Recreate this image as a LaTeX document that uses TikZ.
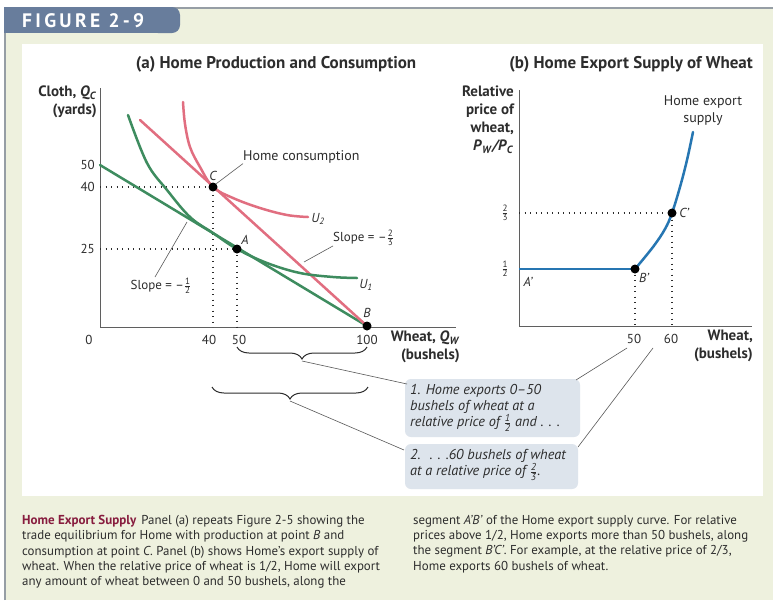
\documentclass[tikz,border=0pt]{standalone}
\usepackage{fontspec}
\usepackage{amsmath}
\setmainfont{PT Sans}
\usetikzlibrary{decorations.pathreplacing}
\definecolor{bgG}{RGB}{238,241,222}
\definecolor{bannerC}{RGB}{104,125,156}
\definecolor{frameG}{RGB}{150,158,165}
\definecolor{grn}{RGB}{62,140,95}
\definecolor{pnk}{RGB}{225,110,128}
\definecolor{blu}{RGB}{38,118,178}
\definecolor{axisC}{RGB}{95,95,95}
\definecolor{boxC}{RGB}{221,228,236}
\definecolor{capred}{RGB}{135,28,62}
\definecolor{txt}{RGB}{45,45,45}
\newcommand\hfr{$\frac{\text{1}}{\text{2}}$}
\newcommand\tfr{$\frac{\text{2}}{\text{3}}$}
\newcommand\isub[2]{\textit{#1}\textsubscript{\textit{#2}}}
\begin{document}
\begin{tikzpicture}[x=1pt,y=-1pt,
  lbl/.style={font=\fontsize{13}{13}\selectfont, text=txt, inner sep=0pt},
  ttl/.style={font=\bfseries\fontsize{17}{17}\selectfont, text=txt, inner sep=0pt},
  axl/.style={font=\bfseries\fontsize{15}{18}\selectfont, text=txt, inner sep=0pt, align=right},
  ptl/.style={font=\itshape\fontsize{13}{13}\selectfont, text=txt, inner sep=0pt},
  ax/.style={draw=axisC, line width=1pt},
  dotl/.style={draw=txt, line width=1.3pt, dash pattern=on 1.3pt off 4.2pt},
  lead/.style={draw=gray!70!black, line width=0.6pt},
  pt/.style={circle, fill=black, inner sep=0pt, minimum size=9pt},
  crv/.style={line width=2.5pt, line cap=round},
  boxt/.style={font=\itshape\fontsize{14.3}{16.3}\selectfont, text=txt, inner sep=0pt, anchor=north west, align=left},
  brc/.style={draw=txt, line width=1pt, decorate, decoration={brace, mirror, amplitude=12pt}},
  captxt/.style={font=\fontsize{12.9}{15.3}\selectfont, text=txt, inner sep=0pt, anchor=north west, align=left}
]
\useasboundingbox (0,0) rectangle (773,600);
% background
\fill[white] (0,0) rectangle (773,600);
\fill[bgG] (5,8) rectangle (773,600);
\fill[white] (22,44) rectangle (763,496);
\draw[frameG, line width=2pt] (5,600) -- (5,8) -- (773,8);
% banner
\fill[bannerC] (4,7) rectangle (170,33);
\fill[bannerC, rounded corners=8pt] (150,7) rectangle (180,33);
\node[font=\bfseries\fontsize{19.5}{19.5}\selectfont\addfontfeatures{LetterSpace=17}, text=white, inner sep=0pt, anchor=west] (fig) at (22,21) {FIGURE 2-9};

% ---------- panel (a)
\node[ttl] (ta) at (276,64) {(a) Home Production and Consumption};
\coordinate (oa) at (100,327);
\coordinate (yta) at (100,88);
\coordinate (xta) at (456,327);
\draw[ax] (yta) -- (oa) -- (xta);
\node[axl, anchor=north east] (ylab) at (97,86) {Cloth, \isub{Q}{C}\\(yards)};
\node[axl, anchor=north east] (xlab) at (460,331) {Wheat, \isub{Q}{W}\\(bushels)};
\node[lbl, anchor=east] (t50) at (95,165) {50};
\node[lbl, anchor=east] (t40) at (95,187) {40};
\node[lbl, anchor=east] (t25) at (95,249) {25};
\node[lbl] (t0) at (89,340) {0};
\node[lbl] (x40) at (209,340) {40};
\node[lbl] (x50) at (239,340) {50};
\node[lbl] (x100) at (367,340) {100};

% points
\coordinate (yC) at (100,187);
\coordinate (xC) at (213,327);
\coordinate (yA) at (100,249);
\coordinate (xA) at (237,327);
\coordinate (y50) at (100,165);
\coordinate (Btop) at (140,120);
\draw[dotl] (yC) -- (213,187) -- (xC);
\draw[dotl] (yA) -- (237,249) -- (xA);
% PPF lines
\draw[grn, crv] (y50) -- (367,326);
\draw[pnk, crv] (Btop) -- (367,326);
% indifference curves
\draw[grn, crv] plot[smooth, tension=0.6] coordinates {(128,115) (147,163) (167,190) (190,217) (213,233) (237,249) (267,263) (300,273) (333,277) (357,278)};
\draw[pnk, crv] plot[smooth, tension=0.6] coordinates {(183,102) (185,124) (190,147) (200,167) (213,187) (233,198) (260,208) (287,215) (308,217)};
\node[pt] (C) at (213,187) {};
\node[pt] (A) at (237,249) {};
\node[pt] (B) at (367,326) {};
\node[ptl] (lC) at (213,176) {C};
\node[ptl] (lA) at (245,240) {A};
\node[ptl] (lB) at (367,313) {B};
\node[ptl] (lU2) at (318,219) {\isub{U}{2}};
\node[ptl] (lU1) at (366,285) {\isub{U}{1}};
\node[lbl, anchor=west, font=\fontsize{14}{14}\selectfont] (hc) at (243,157) {Home consumption};
\draw[lead] (C.north east) -- (hc.south west);
\node[lbl, anchor=west] (s23) at (333,238) {Slope = –\tfr};
\coordinate (p23) at (304,262);
\draw[lead] (p23) -- (s23.south west);
\node[lbl] (s12) at (161,286) {Slope = –\hfr};
\coordinate (p12) at (187,222);
\draw[lead] (p12) -- (155,277);

% ---------- panel (b)
\node[ttl, anchor=east] (tb) at (753,64) {(b) Home Export Supply of Wheat};
\coordinate (ob) at (519,326);
\coordinate (ytb) at (519,90);
\coordinate (xtb) at (752,326);
\draw[ax] (ytb) -- (ob) -- (xtb);
\node[axl, anchor=north east] (ylb) at (514,86) {Relative\\price of\\wheat,\\\textit{P}\textsubscript{\textit{W}}\textit{/P}\textsubscript{\textit{C}}};
\node[axl, anchor=north east] (xlb) at (753,330) {Wheat,\\(bushels)};
\node[lbl] (b50) at (634,339) {50};
\node[lbl] (b60) at (671,339) {60};
\node[lbl] (bh) at (505,269) {\hfr};
\node[lbl] (bt) at (505,213) {\tfr};
\coordinate (yCp) at (519,213);
\coordinate (xBp) at (635,326);
\coordinate (xCp) at (672,326);
\draw[dotl] (yCp) -- (672,213) -- (xCp);
\draw[dotl] (635,269) -- (xBp);
\coordinate (yAp) at (519,269);
\draw[blu, crv, line cap=butt] (yAp) -- (635,269);
\draw[blu, crv] plot[smooth, tension=0.6] coordinates {(635,269) (653,247) (665,229) (672,213) (680,187) (687,160) (693,132)};
\node[pt] (Bp) at (635,269) {};
\node[pt] (Cp) at (672,213) {};
\node[ptl] (lAp) at (528,282) {A'};
\node[ptl] (lBp) at (644,278) {B'};
\node[ptl] (lCp) at (684,213) {C'};
\node[lbl, align=center, font=\fontsize{14}{17}\selectfont] (hes) at (703,111) {Home export\\supply};

% ---------- braces and boxes
\draw[brc] (237,347) -- (367,347);
\coordinate (br1) at (302,361);
\draw[brc] (212,387) -- (368,387);
\coordinate (br2) at (290,401);
\fill[boxC, rounded corners=6pt] (405,379) rectangle (580,437);
\node[boxt] (box1) at (410,384) {1. Home exports 0–50\\bushels of wheat at a\\relative price of \hfr{} and . . .};
\fill[boxC, rounded corners=6pt] (405,444) rectangle (578,489);
\node[boxt] (box2) at (410,449) {2. \ . . .60 bushels of wheat\\at a relative price of \tfr.};
\coordinate (b1l) at (407,384);
\coordinate (b2l) at (404,450);
\coordinate (b1r) at (576,380);
\coordinate (b2r) at (578,447);
\coordinate (l50) at (627,348);
\coordinate (l60) at (653,348);
\draw[lead] (br1) -- (b1l);
\draw[lead] (br2) -- (b2l);
\draw[lead] (b1r) -- (l50);
\draw[lead] (b2r) -- (l60);

% ---------- caption
\node[captxt] (capL) at (22,515) {{\color{capred}\bfseries\fontsize{13}{15}\selectfont Home Export Supply}\hspace{5pt}Panel (a) repeats Figure 2-5 showing the\\
trade equilibrium for Home with production at point \textit{B} and\\
consumption at point \textit{C}. Panel (b) shows Home's export supply of\\
wheat. When the relative price of wheat is 1/2, Home will export\\
any amount of wheat between 0 and 50 bushels, along the};
\node[captxt] (capR) at (413,515) {segment \textit{A'B'} of the Home export supply curve. For relative\\
prices above 1/2, Home exports more than 50 bushels, along\\
the segment \textit{B'C'}. For example, at the relative price of 2/3,\\
Home exports 60 bushels of wheat.};
\end{tikzpicture}
\end{document}
